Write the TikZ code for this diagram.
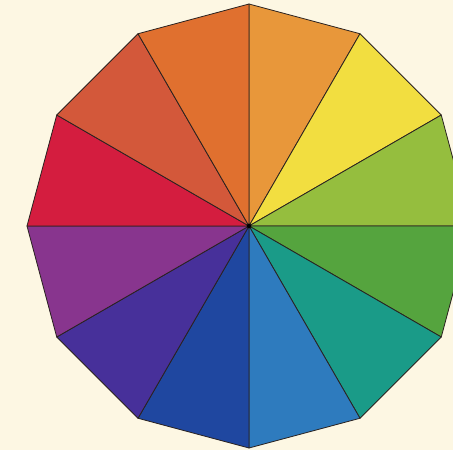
\documentclass[tikz,border=0pt]{standalone}
\usetikzlibrary{calc}
\definecolor{bg}{HTML}{FDF7E3}
\definecolor{cA}{HTML}{E8973A}
\definecolor{cB}{HTML}{F2DE40}
\definecolor{cC}{HTML}{95BE3E}
\definecolor{cD}{HTML}{55A43E}
\definecolor{cE}{HTML}{1A9B88}
\definecolor{cF}{HTML}{2E7BBE}
\definecolor{cG}{HTML}{1F47A0}
\definecolor{cH}{HTML}{47309A}
\definecolor{cI}{HTML}{88358E}
\definecolor{cJ}{HTML}{D41D3F}
\definecolor{cK}{HTML}{D3583A}
\definecolor{cL}{HTML}{E0702F}
\definecolor{edge}{HTML}{2A2220}
\begin{document}
\begin{tikzpicture}[x=1pt,y=-1pt,
  sector/.style={draw=edge,line width=0.8pt,line join=round}]
\useasboundingbox (0,0) rectangle (453,450);
\fill[bg] (0,0) rectangle (453,450);
\clip (0,0) rectangle (453,450);
\coordinate (O) at (249,226);
\foreach \i/\c in {0/cA,1/cB,2/cC,3/cD,4/cE,5/cF,6/cG,7/cH,8/cI,9/cJ,10/cK,11/cL}{
  \pgfmathsetmacro{\aa}{90-30*\i}
  \pgfmathsetmacro{\bb}{90-30*(\i+1)}
  \filldraw[sector,fill=\c] (O) -- ($(O)+({\aa}:222 and -222)$) -- ($(O)+({\bb}:222 and -222)$) -- cycle;
}
\fill[black] (O) circle (2.2);
\end{tikzpicture}
\end{document}
